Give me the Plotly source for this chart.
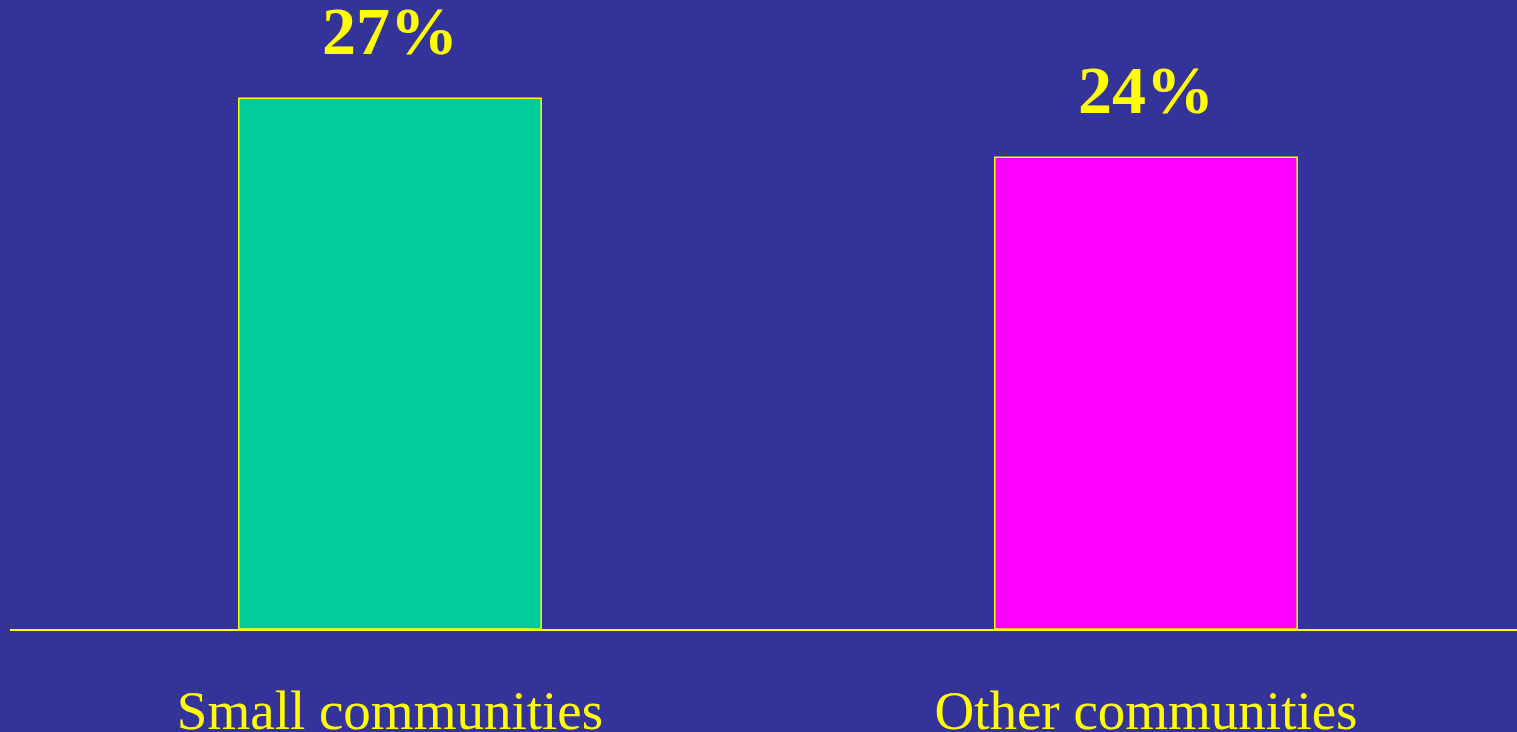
import plotly.graph_objects as go

categories = ["Small communities", "Other communities"]
values = [27, 24]
labels = ["27%", "24%"]
bar_colors = ["#00CC99", "#FF00FF"]

BG = "#333399"
YELLOW = "#FFFF00"
FONT = "Liberation Serif, Times New Roman, serif"

fig = go.Figure()
fig.add_trace(go.Bar(
    x=categories,
    y=values,
    width=0.4,
    marker=dict(color=bar_colors, line=dict(color=YELLOW, width=1.5)),
    hoverinfo="skip",
))

for c, v, t in zip(categories, values, labels):
    fig.add_annotation(
        x=c, y=v, text=f"<b>{t}</b>", showarrow=False,
        xanchor="center", yanchor="bottom", yshift=27,
        font=dict(family=FONT, size=68, color=YELLOW),
    )

fig.update_layout(
    width=1517, height=732,
    margin=dict(l=10, r=0, t=0, b=103, autoexpand=False),
    paper_bgcolor=BG, plot_bgcolor=BG,
    showlegend=False,
    xaxis=dict(
        range=[-0.5026, 1.4908],
        showline=True, linecolor=YELLOW, linewidth=2,
        showgrid=False, zeroline=False, ticks="",
        tickfont=dict(family=FONT, size=55, color=YELLOW),
        ticklabelstandoff=32, automargin=False,
    ),
    yaxis=dict(
        range=[0, 32], visible=False, showgrid=False, zeroline=False,
        automargin=False,
    ),
)

fig.write_html(
    "out.html",
    config={"displayModeBar": False},
    post_script="document.body.style.margin='0';document.body.style.overflow='hidden';"
                "document.documentElement.style.overflow='hidden';"
                "document.body.style.background='" + BG + "';",
)
